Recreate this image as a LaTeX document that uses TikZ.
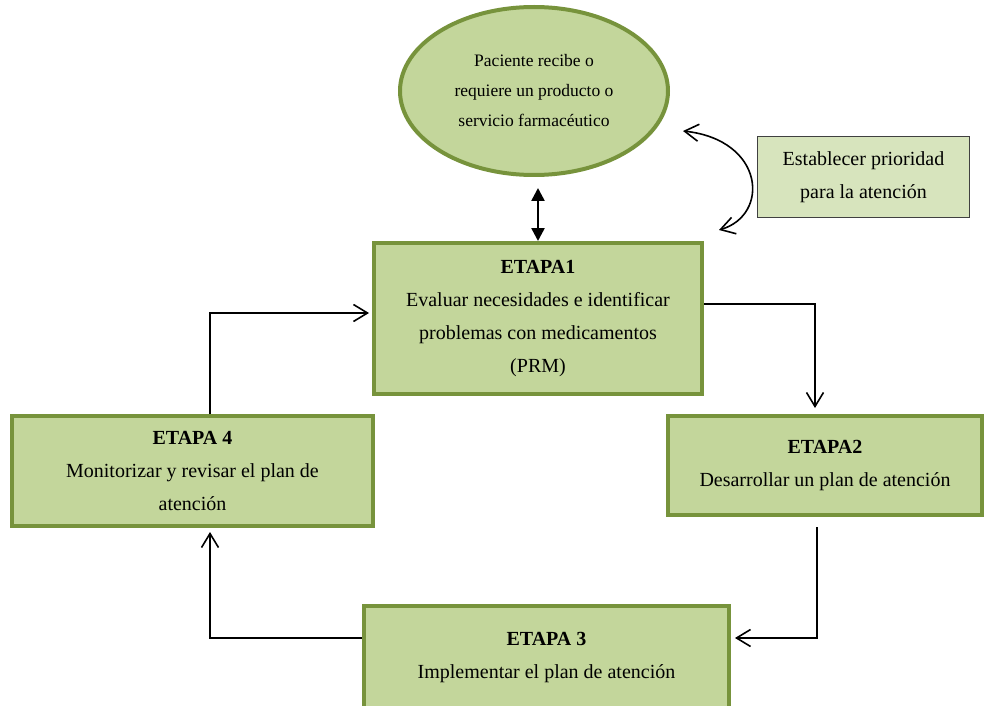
\documentclass[tikz,border=0pt]{standalone}
\usepackage{fontspec}
\setmainfont{Liberation Serif}
\usetikzlibrary{shapes.geometric, arrows.meta, positioning}
\definecolor{etapafill}{HTML}{C3D69B}
\definecolor{etapaborde}{HTML}{77933C}
\definecolor{notafill}{HTML}{D7E4BD}
\definecolor{notaborde}{HTML}{404040}

\begin{document}
\begin{tikzpicture}[x=1pt, y=-1pt,
    etapa/.style={rectangle, draw=etapaborde, fill=etapafill, line width=4pt, align=center, inner sep=2pt, font=\fontsize{20}{33}\selectfont},
    paciente/.style={ellipse, draw=etapaborde, fill=etapafill, line width=4pt, align=center, inner sep=0pt, font=\fontsize{17.5}{30}\selectfont},
    nota/.style={rectangle, draw=notaborde, fill=notafill, line width=1pt, align=center, font=\fontsize{20}{33}\selectfont},
    flecha/.style={-{Straight Barb[length=14pt,width=17pt]}, line width=1.6pt},
    curva/.style={{Straight Barb[length=14pt,width=17pt]}-{Straight Barb[length=14pt,width=17pt]}, line width=1.6pt},
    dobleflecha/.style={{Triangle[length=13pt,width=13pt]}-{Triangle[length=13pt,width=13pt]}, line width=2.5pt}
]
\useasboundingbox (0,0) rectangle (986,706);

% Paciente at top
\node[paciente, minimum width=268, minimum height=168] (paciente) at (534,91) {Paciente recibe o\\requiere un producto o\\servicio farmacéutico};
\node[nota, minimum width=212, minimum height=81] (prioridad) at (863.5,177) {Establecer prioridad\\para la atención};

% Four stages in a loop
\node[etapa, minimum width=328, minimum height=151] (etapa1) at (538,318.5) {\textbf{ETAPA1}\\Evaluar necesidades e identificar\\problemas con medicamentos\\(PRM)};
\node[etapa, minimum width=314, minimum height=99] (etapa2) at (825,465.5) {\textbf{ETAPA2}\\Desarrollar un plan de atención};
\node[etapa, minimum width=365, minimum height=104] (etapa3) at (546.5,658) {\textbf{ETAPA 3}\\Implementar el plan de atención};
\node[etapa, minimum width=361, minimum height=110] (etapa4) at (192.5,471) {\textbf{ETAPA 4}\\Monitorizar y revisar el plan de\\atención};

% Curved arrow ends
\coordinate (curvaA) at (683,131);
\coordinate (curvaB) at (719,230);

% Connections
\draw[dobleflecha, shorten <=11pt] (etapa1.north |- paciente.south) -- (etapa1.north);
\draw[curva] (curvaA) .. controls (765,140) and (770,215) .. (curvaB);
\draw[flecha, shorten >=6pt] ([yshift=14.5pt]etapa1.east) -| ([xshift=-10pt]etapa2.north);
\draw[flecha, shorten <=10pt, shorten >=4pt] ([xshift=-8pt]etapa2.south) |- ([yshift=20pt]etapa3.east);
\draw[flecha, shorten >=4pt] ([yshift=20pt]etapa3.west) -| ([xshift=17.5pt]etapa4.south);
\draw[flecha, shorten >=3pt] ([xshift=17.5pt]etapa4.north) |- ([yshift=5.5pt]etapa1.west);
\end{tikzpicture}
\end{document}
